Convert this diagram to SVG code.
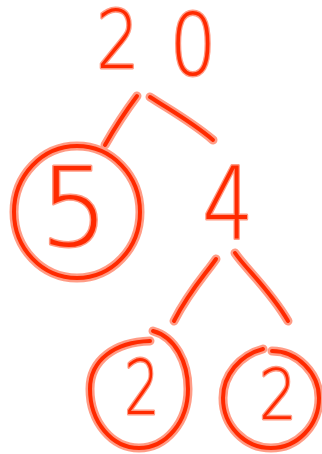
<svg xmlns="http://www.w3.org/2000/svg" width="322" height="454" viewBox="0 0 322 454">
<defs>
<style>
.halo{fill:none;stroke:#ff9c86;stroke-width:9;stroke-linecap:round;stroke-linejoin:round}
.ink{fill:none;stroke:#ff2a00;stroke-width:4;stroke-linecap:round;stroke-linejoin:round}
.num{font-family:"DejaVu Sans",sans-serif;font-weight:200;fill:#ff2a00;stroke:#ff9c86;stroke-width:3;paint-order:stroke;text-anchor:middle;stroke-linejoin:round}
</style>
</defs>
<rect width="322" height="454" fill="#ffffff"/>
<g id="connectors">
<path class="halo" d="M137,96 C128,108 118,122 105,145"/>
<path class="ink" d="M137,96 C128,108 118,122 105,145"/>
<path class="halo" d="M150,97 C170,110 192,122 213,140"/>
<path class="ink" d="M150,97 C170,110 192,122 213,140"/>
<path class="halo" d="M216,259 C205,275 190,290 174,321"/>
<path class="ink" d="M216,259 C205,275 190,290 174,321"/>
<path class="halo" d="M235,253 C245,268 270,290 288,321"/>
<path class="ink" d="M235,253 C245,268 270,290 288,321"/>
</g>
<g id="n20">
<text class="num" x="118" y="68" font-size="80" transform="translate(118 68) scale(0.85 1) translate(-118 -68)">2</text>
<text class="num" x="193" y="75" font-size="86" transform="translate(193 75) scale(0.85 1) translate(-193 -75)">0</text>
</g>
<g id="n5">
<ellipse class="halo" cx="77" cy="212" rx="63" ry="66"/>
<ellipse class="ink" cx="77" cy="212" rx="63" ry="66"/>
<text class="num" x="74" y="245" font-size="108">5</text>
</g>
<g id="n4">
<text class="num" x="228" y="238" font-size="100" transform="translate(228 238) scale(0.8 1) translate(-228 -238)">4</text>
</g>
<g id="n2a">
<path class="halo" d="M153,331 C175,337 188,362 188,389 C188,422 166,448 139,448 C112,448 90,422 90,389 C90,360 115,342 150,341"/>
<path class="ink" d="M153,331 C175,337 188,362 188,389 C188,422 166,448 139,448 C112,448 90,422 90,389 C90,360 115,342 150,341"/>
<text class="num" x="142" y="414" font-size="74" transform="translate(142 414) scale(0.75 1) translate(-142 -414)">2</text>
</g>
<g id="n2b">
<path class="halo" d="M272,351 C297,351 319,373 319,398 C319,426 297,448 271,448 C245,448 223,426 223,398 C223,375 240,355 263,349"/>
<path class="ink" d="M272,351 C297,351 319,373 319,398 C319,426 297,448 271,448 C245,448 223,426 223,398 C223,375 240,355 263,349"/>
<text class="num" x="278" y="419" font-size="70" transform="translate(278 419) scale(0.85 1) translate(-278 -419)">2</text>
</g>
</svg>
